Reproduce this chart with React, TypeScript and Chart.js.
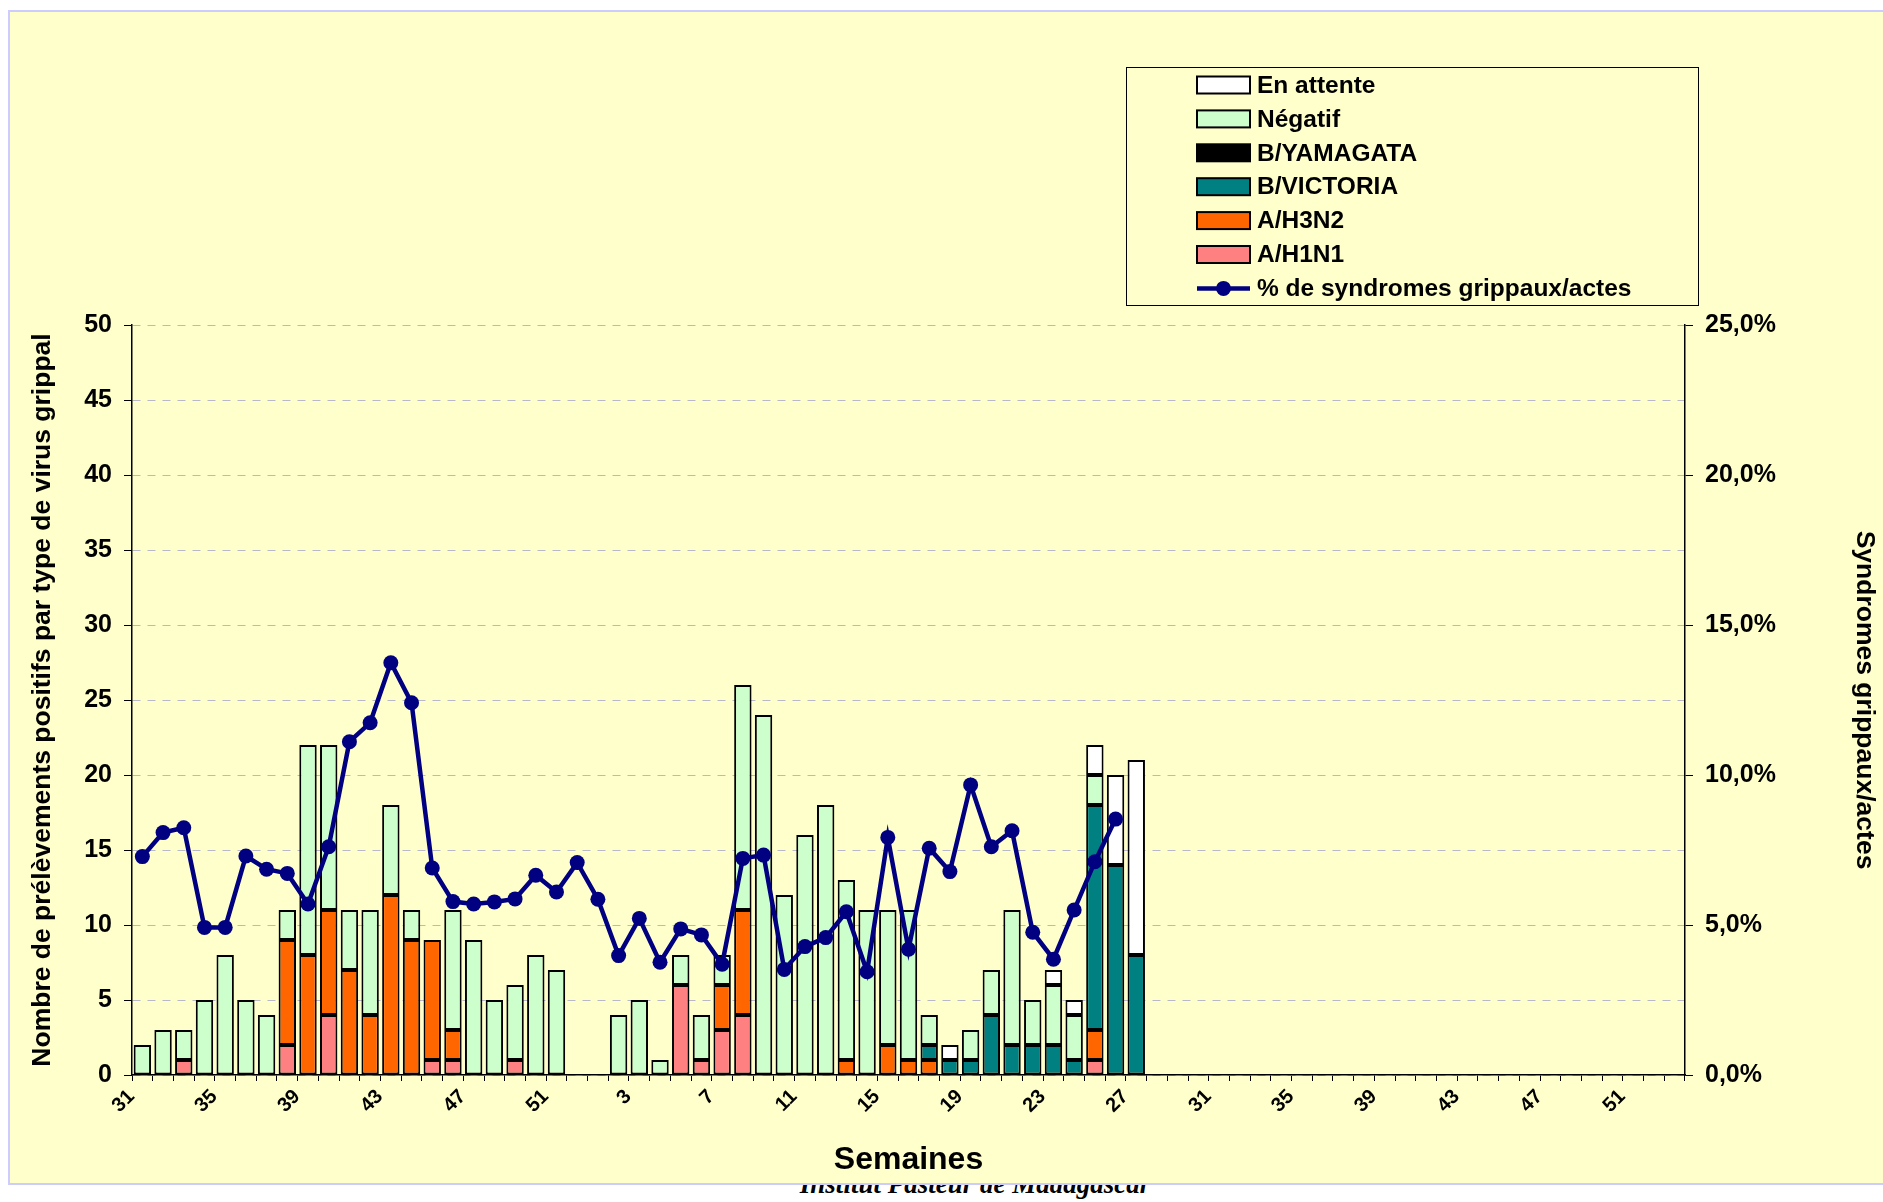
import React, { useEffect, useRef } from 'react';
import { Chart, registerables } from 'chart.js';

Chart.register(...registerables);

// 75 weekly categories: weeks 31..52, then 1..53
const weeks = [
  '31', '32', '33', '34', '35', '36', '37', '38', '39', '40', '41', '42', '43', '44', '45', '46', '47', '48', '49', '50', '51', '52',
  '1', '2', '3', '4', '5', '6', '7', '8', '9', '10', '11', '12', '13', '14', '15', '16', '17', '18', '19', '20',
  '21', '22', '23', '24', '25', '26', '27', '28', '29', '30', '31', '32', '33', '34', '35', '36', '37', '38', '39', '40',
  '41', '42', '43', '44', '45', '46', '47', '48', '49', '50', '51', '52', '53',
];

// counts per week (weeks 31 .. 27 of next year)
const h1n1 = [0, 0, 1, 0, 0, 0, 0, 2, 0, 4, 0, 0, 0, 0, 1, 1, 0, 0, 1, 0, 0, 0,
  0, 0, 0, 0, 6, 1, 3, 4, 0, 0, 0, 0, 0, 0, 0, 0, 0, 0, 0, 0, 0, 0, 0, 0, 1, 0, 0];
const h3n2 = [0, 0, 0, 0, 0, 0, 0, 7, 8, 7, 7, 4, 12, 9, 8, 2, 0, 0, 0, 0, 0, 0,
  0, 0, 0, 0, 0, 0, 3, 7, 0, 0, 0, 0, 1, 0, 2, 1, 1, 0, 0, 0, 0, 0, 0, 0, 2, 0, 0];
const bVictoria = [0, 0, 0, 0, 0, 0, 0, 0, 0, 0, 0, 0, 0, 0, 0, 0, 0, 0, 0, 0, 0, 0,
  0, 0, 0, 0, 0, 0, 0, 0, 0, 0, 0, 0, 0, 0, 0, 0, 1, 1, 1, 4, 2, 2, 2, 1, 15, 14, 8];
const bYamagata = [0, 0, 0, 0, 0, 0, 0, 0, 0, 0, 0, 0, 0, 0, 0, 0, 0, 0, 0, 0, 0, 0,
  0, 0, 0, 0, 0, 0, 0, 0, 0, 0, 0, 0, 0, 0, 0, 0, 0, 0, 0, 0, 0, 0, 0, 0, 0, 0, 0];
const negatif = [2, 3, 2, 5, 8, 5, 4, 2, 14, 11, 4, 7, 6, 2, 0, 8, 9, 5, 5, 8, 7, 0,
  0, 4, 5, 1, 2, 3, 2, 15, 24, 12, 16, 18, 12, 11, 9, 10, 2, 0, 2, 3, 9, 3, 4, 3, 2, 0, 0];
const enAttente = [0, 0, 0, 0, 0, 0, 0, 0, 0, 0, 0, 0, 0, 0, 0, 0, 0, 0, 0, 0, 0, 0,
  0, 0, 0, 0, 0, 0, 0, 0, 0, 0, 0, 0, 0, 0, 0, 0, 0, 1, 0, 0, 0, 0, 1, 1, 2, 6, 13];

// % de syndromes grippaux / actes (weeks 31 .. 26)
const syndromes = [7.28, 8.08, 8.24, 4.92, 4.92, 7.3, 6.86, 6.72, 5.7, 7.61, 11.11, 11.74, 13.74, 12.41, 6.9, 5.78,
  5.7, 5.77, 5.87, 6.66, 6.1, 7.08, 5.86, 3.98, 5.22, 3.76, 4.87, 4.67, 3.69, 7.22, 7.33, 3.52, 4.28, 4.58, 5.44,
  3.44, 7.92, 4.19, 7.56, 6.78, 9.67, 7.61, 8.14, 4.76, 3.86, 5.5, 7.11, 8.53];

const yTicks = [0, 5, 10, 15, 20, 25, 30, 35, 40, 45, 50];

const FONT = '"Liberation Sans", Arial, Helvetica, sans-serif';
const nz = (a: number[]) => a.map((v) => (v === 0 ? null : v));

export default function App() {
  const ref = useRef<HTMLCanvasElement>(null);

  useEffect(() => {
    const canvas = ref.current;
    if (!canvas) return;

    const legendPlugin = {
      id: 'boxLegend',
      afterDraw(chart: any) {
        const c = chart.ctx as CanvasRenderingContext2D;
        const x0 = 1126, y0 = 67, w = 572, h = 238;
        c.save();
        c.fillStyle = '#FFFFCC';
        c.fillRect(x0, y0, w, h);
        c.strokeStyle = '#000';
        c.lineWidth = 1;
        c.strokeRect(x0 + 0.5, y0 + 0.5, w, h);
        const ds = chart.data.datasets;
        const items = [...ds.slice(1).reverse(), ds[0]];
        const sx = 1197, sw = 53, sh = 17, tx = 1257;
        c.font = `bold 24.5px ${FONT}`;
        c.textBaseline = 'middle';
        c.textAlign = 'left';
        items.forEach((d: any, i: number) => {
          const cy = 85 + i * 33.9;
          if (d.type === 'line') {
            c.strokeStyle = d.borderColor;
            c.lineWidth = 4.5;
            c.beginPath();
            c.moveTo(sx, cy);
            c.lineTo(sx + sw, cy);
            c.stroke();
            c.fillStyle = d.borderColor;
            c.beginPath();
            c.arc(sx + sw / 2, cy, 7.5, 0, Math.PI * 2);
            c.fill();
          } else {
            c.fillStyle = d.backgroundColor;
            c.fillRect(sx, cy - sh / 2, sw, sh);
            c.strokeStyle = '#000';
            c.lineWidth = 2;
            c.strokeRect(sx, cy - sh / 2, sw, sh);
          }
          c.fillStyle = '#000';
          c.fillText(d.label, tx, cy + 1);
        });
        c.restore();
      },
    };

    const barCommon = {
      type: 'bar' as const,
      yAxisID: 'y',
      stack: 's',
      order: 1,
      borderColor: '#000',
      borderWidth: 2,
      borderSkipped: false,
      barPercentage: 0.84,
      categoryPercentage: 1,
    };

    const chart = new Chart(canvas, {
      data: {
        labels: weeks,
        datasets: [
          {
            type: 'line',
            label: '% de syndromes grippaux/actes',
            data: syndromes,
            yAxisID: 'y1',
            order: 0,
            borderColor: '#000080',
            backgroundColor: '#000080',
            borderWidth: 4.5,
            pointRadius: 7.5,
            pointBackgroundColor: '#000080',
            pointBorderColor: '#000080',
            pointBorderWidth: 0,
            tension: 0,
          } as any,
          { ...barCommon, label: 'A/H1N1', data: nz(h1n1), backgroundColor: '#FF8080' },
          { ...barCommon, label: 'A/H3N2', data: nz(h3n2), backgroundColor: '#FF6600' },
          { ...barCommon, label: 'B/VICTORIA', data: nz(bVictoria), backgroundColor: '#008080' },
          { ...barCommon, label: 'B/YAMAGATA', data: nz(bYamagata), backgroundColor: '#000000' },
          { ...barCommon, label: 'Négatif', data: nz(negatif), backgroundColor: '#CCFFCC' },
          { ...barCommon, label: 'En attente', data: nz(enAttente), backgroundColor: '#FFFFFF' },
        ],
      },
      options: {
        responsive: false,
        animation: false,
        devicePixelRatio: 1,
        layout: { padding: { top: 325, left: 0, right: 0, bottom: 0 } },
        plugins: { legend: { display: false }, tooltip: { enabled: false } },
        scales: {
          x: {
            stacked: true,
            offset: true,
            grid: {
              display: true,
              drawOnChartArea: false,
              drawTicks: true,
              tickLength: 6,
              offset: true,
              color: '#000',
              tickColor: '#000',
            },
            border: { display: true, color: '#000', width: 1.5 },
            ticks: {
              autoSkip: false,
              maxRotation: 45,
              minRotation: 45,
              padding: 4,
              labelOffset: -11,
              color: '#000',
              font: { family: FONT, size: 20, weight: 'bold' },
              callback: (_v: any, i: number) => (i % 4 === 0 ? weeks[i] : ''),
            },
            title: {
              display: true,
              text: 'Semaines',
              color: '#000',
              font: { family: FONT, size: 32, weight: 'bold' },
              padding: { top: 0, bottom: 6 },
            },
            afterFit: (s: any) => {
              s.height = 110;
            },
          },
          y: {
            stacked: true,
            position: 'left',
            min: 0,
            max: 50,
            afterBuildTicks: (s: any) => {
              s.ticks = yTicks.map((v) => ({ value: v }));
            },
            grid: {
              color: '#B8B8C8',
              lineWidth: 1,
              tickColor: '#000',
              tickLength: 8,
              tickBorderDash: [],
            },
            border: { display: true, color: '#000', width: 1.5, dash: [8, 7] },
            ticks: {
              padding: 12,
              color: '#000',
              font: { family: FONT, size: 25, weight: 'bold' },
            },
            title: {
              display: true,
              text: 'Nombre de prélèvements positifs par type de virus grippal',
              color: '#000',
              font: { family: FONT, size: 26.5, weight: 'bold' },
              padding: { top: 27, bottom: 0 },
            },
            afterFit: (s: any) => {
              s.width = 132;
            },
          },
          y1: {
            position: 'right',
            min: 0,
            max: 25,
            grid: { drawOnChartArea: false, tickColor: '#000', tickLength: 8, color: '#000' },
            border: { display: true, color: '#000', width: 1.5 },
            ticks: {
              stepSize: 5,
              padding: 12,
              color: '#000',
              font: { family: FONT, size: 25, weight: 'bold' },
              callback: (v: any) => Number(v).toFixed(1).replace('.', ',') + '%',
            },
            title: {
              display: true,
              text: 'Syndromes grippaux/actes',
              color: '#000',
              font: { family: FONT, size: 26.5, weight: 'bold' },
              padding: { top: 3, bottom: 0 },
            },
            afterFit: (s: any) => {
              s.width = 198;
            },
          },
        },
      } as any,
      plugins: [legendPlugin],
    } as any);

    return () => chart.destroy();
  }, []);

  return (
    <div style={{ position: 'fixed', left: 0, top: 0, width: 1883, height: 1202, overflow: 'hidden', background: '#FFFFFF' }}>
      <div
        style={{
          position: 'absolute',
          left: 975,
          top: 1171,
          transform: 'translateX(-50%)',
          whiteSpace: 'nowrap',
          fontFamily: '"Liberation Serif", "Times New Roman", serif',
          fontWeight: 'bold',
          fontStyle: 'italic',
          fontSize: 27,
          lineHeight: '27px',
          color: '#000',
        }}
      >
        Institut Pasteur de Madagascar
      </div>
      <div
        style={{
          position: 'absolute',
          left: 8,
          top: 10,
          width: 1900,
          height: 1175,
          boxSizing: 'border-box',
          background: '#FFFFCC',
          border: '2px solid #CCCCFF',
          zIndex: 1,
        }}
      />
      <canvas
        ref={ref}
        width={1883}
        height={1185}
        style={{ position: 'absolute', left: 0, top: 0, width: 1883, height: 1185, zIndex: 2 }}
      />
    </div>
  );
}
